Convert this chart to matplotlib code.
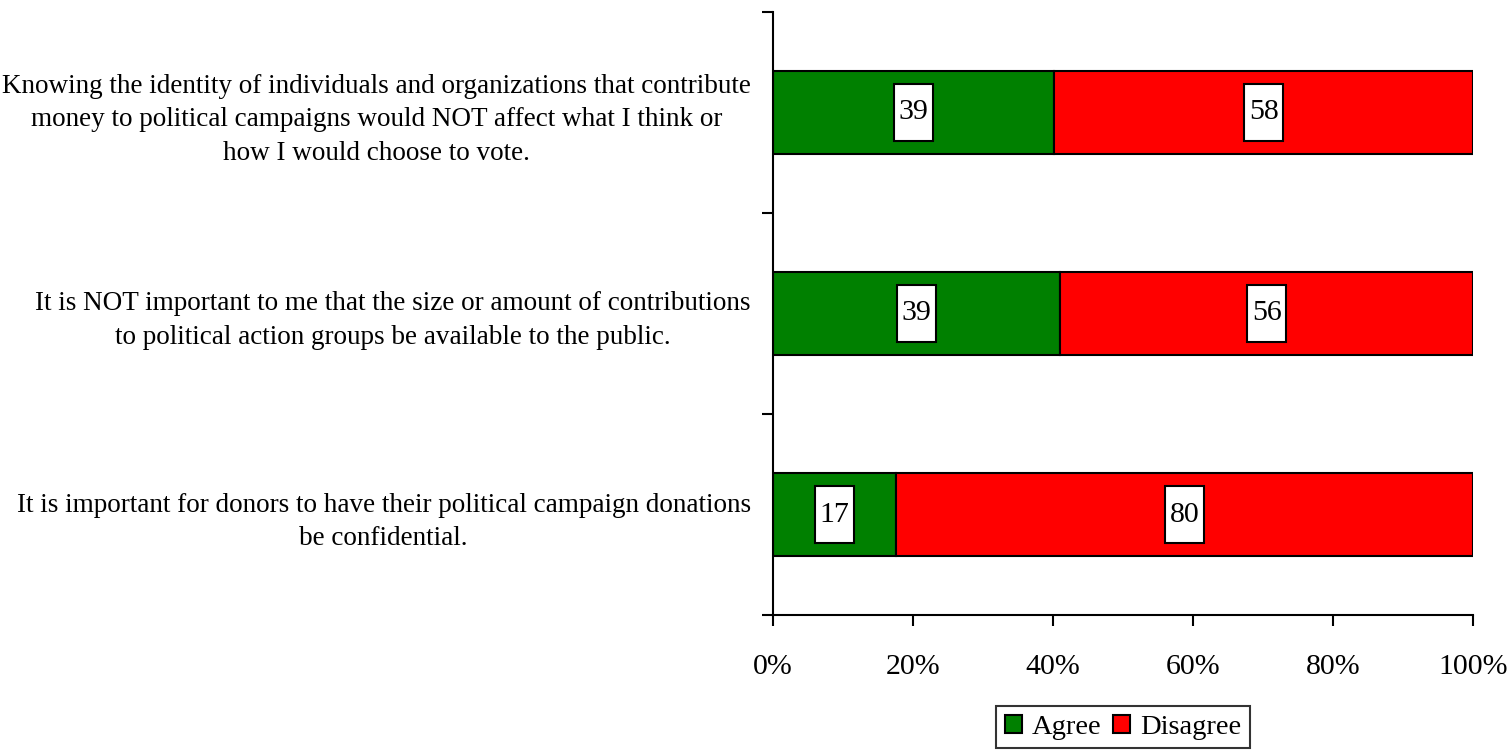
import numpy as np
import matplotlib.pyplot as plt
from matplotlib.path import Path

plt.rcParams['font.family'] = ['Liberation Serif', 'DejaVu Serif']

# Survey statements (top to bottom) and response counts
statements = [
    "Knowing the identity of individuals and organizations that contribute\n"
    "money to political campaigns would NOT affect what I think or\n"
    "how I would choose to vote.",
    "It is NOT important to me that the size or amount of contributions\n"
    "to political action groups be available to the public.",
    "It is important for donors to have their political campaign donations\n"
    "be confidential.",
]
agree = [39, 39, 17]
disagree = [58, 56, 80]
series_names = ["Agree", "Disagree"]
series_colors = ["#008000", "#FF0000"]
xtick_values = [0, 20, 40, 60, 80, 100]
xtick_labels = ["0%", "20%", "40%", "60%", "80%", "100%"]

FS = 19.5
FS_BIG = 21.5

agree_arr = np.array(agree, dtype=float)
dis_arr = np.array(disagree, dtype=float)
total = agree_arr + dis_arr
agree_pct = agree_arr / total * 100
dis_pct = dis_arr / total * 100

fig = plt.figure(figsize=(15.1, 7.5), dpi=100)
ax = fig.add_axes([773 / 1510, 1 - 615 / 750, 700 / 1510, 603 / 750])

ypos = np.arange(len(statements))[::-1]
bar_h = 0.41
ax.barh(ypos, agree_pct, height=bar_h, color=series_colors[0],
        edgecolor="black", linewidth=1.5, label=series_names[0])
ax.barh(ypos, dis_pct, left=agree_pct, height=bar_h, color=series_colors[1],
        edgecolor="black", linewidth=1.5, label=series_names[1])


def tall_box(x0, y0, width, height, mutation_size):
    """Rectangular label box, padded more vertically than horizontally."""
    px = 0.16 * mutation_size
    py = 0.52 * mutation_size
    x0, y0 = x0 - px, y0 - py
    x1, y1 = x0 + width + 2 * px, y0 + height + 2 * py
    return Path([(x0, y0), (x1, y0), (x1, y1), (x0, y1), (x0, y0)], closed=True)


for y, a, d, ap, dp in zip(ypos, agree, disagree, agree_pct, dis_pct):
    for val, center in ((a, ap / 2), (d, ap + dp / 2)):
        ax.text(center, y, f"{val}", ha="center", va="center", fontsize=FS_BIG,
                bbox=dict(boxstyle=tall_box, facecolor="white",
                          edgecolor="black", linewidth=1.5))

ax.set_xlim(0, 100)
ax.set_ylim(-0.5, len(statements) - 0.5)
ax.set_xticks(xtick_values)
ax.set_xticklabels(xtick_labels, fontsize=FS_BIG)
ax.tick_params(axis="x", direction="out", length=8, width=1.5, pad=20)

# Category boundaries as major ticks, statements as minor tick labels
ax.set_yticks(np.arange(-0.5, len(statements), 1.0))
ax.set_yticklabels([])
ax.set_yticks(ypos, minor=True)
ax.set_yticklabels(statements, minor=True, fontsize=FS,
                   multialignment="center", linespacing=1.45)
ax.tick_params(axis="y", which="major", direction="out", length=8, width=1.5)
ax.tick_params(axis="y", which="minor", length=0, pad=16)

for side in ("top", "right"):
    ax.spines[side].set_visible(False)
for side in ("left", "bottom"):
    ax.spines[side].set_linewidth(1.5)

leg = ax.legend(loc="upper center", bbox_to_anchor=(0.5, -0.151), ncol=2,
                fontsize=20.5, frameon=True, fancybox=False, edgecolor="black",
                handlelength=0.6, handleheight=0.6, handletextpad=0.35,
                columnspacing=0.4, borderpad=0.3, borderaxespad=0)
leg.get_frame().set_linewidth(1.5)
for h in leg.legend_handles:
    h.set_linewidth(1.5)

fig.savefig("out.png", dpi=100, facecolor="white")
